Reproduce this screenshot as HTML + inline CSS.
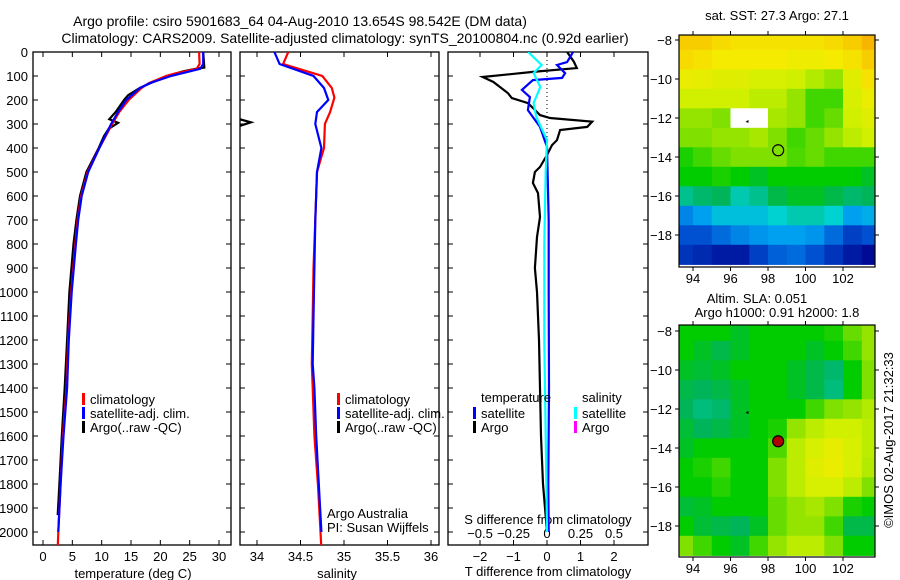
<!DOCTYPE html>
<html><head><meta charset="utf-8">
<style>
html,body{margin:0;padding:0;background:#fff;}
svg{display:block;font-family:"Liberation Sans",sans-serif;}
text{fill:#000;}
</style></head>
<body>
<svg id="fig" width="900" height="580" viewBox="0 0 900 580" xmlns="http://www.w3.org/2000/svg">
<text x="300" y="26" font-size="14" text-anchor="middle">Argo profile: csiro 5901683_64 04-Aug-2010 13.654S 98.542E (DM data)</text>
<text x="345" y="43" font-size="14" text-anchor="middle">Climatology: CARS2009. Satellite-adjusted climatology: synTS_20100804.nc (0.92d earlier)</text>
<g id="root"></g>
</svg>
<script>
// ---------- data ----------
const depthTicks = [0,100,200,300,400,500,600,700,800,900,1000,1100,1200,1300,1400,1500,1600,1700,1800,1900,2000];
const tempTicks = [0,5,10,15,20,25,30];
const salTicks = [34,34.5,35,35.5,36];
const salTickLabels = ["34","34.5","35","35.5","36"];
const tdiffTicks = [-2,-1,0,1,2];
const sdiffTicks = [-0.5,-0.25,0,0.25,0.5];

const tClimDepth = [0,50,70,90,100,130,150,200,250,300,400,500,600,700,800,1000,1200,1400,1600,1800,2000,2070];
const tClimVal   = [26.6,26.7,26.2,22.5,21,18,16.8,14.6,13,11.8,9.6,7.6,6.5,5.9,5.5,4.8,4.3,4.0,3.4,3.0,2.6,2.5];
const tSatDepth  = [0,50,70,90,100,130,150,200,250,300,400,500,600,700,800,1000,1200,1400,1600,1800,2000];
const tSatVal    = [27.3,27.3,26.8,23.5,21.8,18.2,16.5,14.2,12.8,11.6,9.6,7.7,6.6,6.0,5.6,4.9,4.4,4.1,3.5,3.0,2.6];
const tArgoDepth = [0,65,70,80,100,150,180,200,250,280,295,320,350,400,500,600,700,800,1000,1200,1400,1600,1800,1930];
const tArgoVal   = [27.3,27.5,26,24,21,16.5,14.5,13.8,12.4,11.3,12.8,11.2,10.4,9.5,7.4,6.3,5.7,5.2,4.5,4.1,3.7,3.2,2.8,2.5];

const sClimDepth = [0,50,100,150,190,250,300,400,500,700,900,1100,1300,1400,1600,1800,2000,2070];
const sClimVal   = [34.36,34.30,34.75,34.86,34.89,34.84,34.78,34.77,34.69,34.67,34.65,34.64,34.63,34.64,34.66,34.70,34.73,34.74];
const sSatDepth  = [0,50,100,150,200,250,300,400,500,700,900,1100,1300,1400,1600,1800,2000];
const sSatVal    = [34.2,34.26,34.65,34.77,34.82,34.69,34.67,34.74,34.69,34.67,34.66,34.65,34.64,34.66,34.68,34.71,34.74];
const sArgoDepth = [270,293,320];
const sArgoVal   = [33.7,33.93,33.7];

const dArgoDepth = [0,40,67,83,104,125,171,192,213,233,263,275,290,312,325,367,388,429,479,500,546,588,688,771,900,1000,1100,1200,1400,1600,1800,1900,2000];
const dArgoVal   = [0.6,0.8,0.89,-0.42,-1.92,-1.6,-1.17,-1.05,-0.57,-0.42,-0.21,0.09,1.35,1.2,0.39,0.3,0.15,0,-0.21,-0.36,-0.42,-0.27,-0.21,-0.3,-0.36,-0.3,-0.27,-0.24,-0.21,-0.18,-0.12,-0.06,0];
const dSatTDepth = [0,42,54,88,108,117,158,188,242,312,396,700,1000,1400,1800,2000];
const dSatTVal   = [0.78,0.6,0.3,0.54,0.45,-0.42,-0.75,-0.51,-0.57,-0.21,0,0.05,0.05,0.06,0.04,0.05];
const dSatSDepth = [0,54,88,146,213,271,367,500,800,1200,1600,2000];
const dSatSVal   = [-0.14,-0.04,-0.1,-0.05,-0.1,-0.08,0,-0.01,-0.02,-0.02,-0.01,0];

const lonTicks = [94,96,98,100,102];
const latTicks = [-8,-10,-12,-14,-16,-18];
const gridLons = [93.5,94.5,95.5,96.5,97.5,98.5,99.5,100.5,101.5,102.5,103.5];
const gridLats = [-8,-9,-10,-11,-12,-13,-14,-15,-16,-17,-18,-19];
const sstGrid = [
[0.85,0.85,0.82,0.8,0.8,0.8,0.8,0.8,0.82,0.85,0.9],
[0.82,0.8,0.78,0.78,0.78,0.78,0.76,0.76,0.78,0.8,0.85],
[0.75,0.74,0.72,0.72,0.7,0.7,0.68,0.65,0.62,0.72,0.8],
[0.68,0.68,0.68,0.68,0.66,0.66,0.62,0.55,0.55,0.7,0.75],
[0.62,0.62,0.6,-1,-1,0.64,0.62,0.55,0.58,0.68,0.72],
[0.6,0.6,0.62,0.62,0.64,0.6,0.55,0.58,0.62,0.66,0.68],
[0.52,0.55,0.58,0.6,0.6,0.6,0.56,0.58,0.55,0.55,0.55],
[0.5,0.5,0.52,0.5,0.48,0.5,0.5,0.5,0.5,0.5,0.48],
[0.42,0.44,0.45,0.4,0.42,0.46,0.48,0.48,0.46,0.44,0.45],
[0.25,0.3,0.35,0.35,0.35,0.38,0.4,0.4,0.38,0.3,0.32],
[0.15,0.15,0.2,0.25,0.28,0.3,0.3,0.28,0.2,0.12,0.15],
[0.1,0.08,0.05,0.05,0.12,0.18,0.2,0.15,0.1,0.05,0.02]];
const slaGrid = [
[0.5,0.5,0.5,0.48,0.5,0.5,0.5,0.5,0.52,0.58,0.62],
[0.5,0.48,0.46,0.48,0.5,0.5,0.5,0.48,0.5,0.55,0.62],
[0.48,0.47,0.48,0.5,0.5,0.5,0.48,0.46,0.44,0.5,0.6],
[0.46,0.45,0.46,0.48,0.5,0.5,0.48,0.46,0.43,0.5,0.6],
[0.45,0.43,0.44,0.48,0.5,0.5,0.5,0.55,0.6,0.62,0.65],
[0.47,0.45,0.46,0.48,0.5,0.52,0.62,0.66,0.68,0.68,0.66],
[0.48,0.5,0.5,0.5,0.5,0.56,0.66,0.7,0.74,0.7,0.66],
[0.5,0.52,0.55,0.5,0.5,0.6,0.66,0.72,0.75,0.7,0.65],
[0.5,0.5,0.53,0.5,0.5,0.6,0.66,0.7,0.7,0.66,0.6],
[0.47,0.48,0.5,0.5,0.5,0.58,0.62,0.64,0.6,0.52,0.5],
[0.5,0.47,0.46,0.45,0.48,0.58,0.62,0.62,0.55,0.46,0.46],
[0.6,0.55,0.5,0.48,0.55,0.62,0.66,0.66,0.6,0.5,0.5]];
const argoLon = 98.542, argoLat = -13.654;

// ---------- helpers ----------
const NS="http://www.w3.org/2000/svg";
const root=document.getElementById('root');
function el(tag,attrs,parent){const e=document.createElementNS(NS,tag);for(const k in attrs)e.setAttribute(k,attrs[k]);(parent||root).appendChild(e);return e;}
function txt(x,y,s,size,anchor,parent){const t=el('text',{x:x,y:y,'font-size':size||13,'text-anchor':anchor||'middle'},parent);t.textContent=s;return t;}
const yTop=52, yPer=0.24;
const yD = d => yTop + d*yPer;
function lin(d0,d1,r0,r1){return v=>r0+(v-d0)*(r1-r0)/(d1-d0);}
const xT = lin(0,30,43,219);
const xS = lin(34,36,257,431);
const xTd = lin(0,2,547,614);
const xSd = lin(0,0.5,547,614);

function panel(id,x0,x1,name){
  const g=el('g',{});
  
  
  const cp=el('clipPath',{id:id},g);
  el('rect',{x:x0,y:yTop,width:x1-x0,height:545-yTop},cp);
  const frame=el('rect',{x:x0,y:yTop,width:x1-x0,height:545-yTop,fill:'none',stroke:'#000','stroke-width':1.3},g);
  
  
  depthTicks.forEach(d=>{
    el('line',{x1:x0,x2:x0+5,y1:yD(d),y2:yD(d),stroke:'#000'},g);
    el('line',{x1:x1,x2:x1-5,y1:yD(d),y2:yD(d),stroke:'#000'},g);
  });
  return g;
}
function series(g,clip,depths,vals,xf,color,name,w){
  const pts=depths.map((d,i)=>xf(vals[i]).toFixed(1)+','+yD(d).toFixed(1)).join(' ');
  const p=el('polyline',{points:pts,fill:'none',stroke:color,'stroke-width':w||2.2,'clip-path':'url(#'+clip+')'},g);
  
  
}
function legend(g,x,y,color,label){
  el('rect',{x:x,y:y-9,width:3,height:12,fill:color},g);
  const t=txt(x+8,y+2,label,13,'start',g);
  
  
}

// depth labels
const dl=el('g',{});


depthTicks.forEach(d=>txt(28,yD(d)+5,String(d),13,'end',dl));

// ---- temperature panel ----
const p1=panel('c1',33,231,'temperature-panel');
tempTicks.forEach(t=>{
  el('line',{x1:xT(t),x2:xT(t),y1:545,y2:540,stroke:'#000'},p1);
  el('line',{x1:xT(t),x2:xT(t),y1:yTop,y2:yTop+5,stroke:'#000'},p1);
  txt(xT(t),561,String(t),13,'middle',p1);
});
txt(133,578,'temperature (deg C)',13,'middle',p1);
series(p1,'c1',tArgoDepth,tArgoVal,xT,'#000','temp-argo-line');
series(p1,'c1',tClimDepth,tClimVal,xT,'#f00','temp-climatology-line');
series(p1,'c1',tSatDepth,tSatVal,xT,'#00f','temp-satellite-line');
legend(p1,82,402,'#f00','climatology');
legend(p1,82,416,'#00f','satellite-adj. clim.');
legend(p1,82,430,'#000','Argo(..raw -QC)');

// ---- salinity panel ----
const p2=panel('c2',240,439,'salinity-panel');
salTicks.forEach((s,i)=>{
  el('line',{x1:xS(s),x2:xS(s),y1:545,y2:540,stroke:'#000'},p2);
  el('line',{x1:xS(s),x2:xS(s),y1:yTop,y2:yTop+5,stroke:'#000'},p2);
  txt(xS(s),561,salTickLabels[i],13,'middle',p2);
});
txt(337,578,'salinity',13,'middle',p2);
series(p2,'c2',sArgoDepth,sArgoVal,xS,'#000','sal-argo-line');
series(p2,'c2',sClimDepth,sClimVal,xS,'#f00','sal-climatology-line');
series(p2,'c2',sSatDepth,sSatVal,xS,'#00f','sal-satellite-line');
legend(p2,337,402,'#f00','climatology');
legend(p2,337,416,'#00f','satellite-adj. clim.');
legend(p2,337,430,'#000','Argo(..raw -QC)');
txt(327,518,'Argo Australia',13,'start',p2);
txt(327,532,'PI: Susan Wijffels',13,'start',p2);

// ---- difference panel ----
const p3=panel('c3',448,648,'difference-panel');
tdiffTicks.forEach(t=>{
  el('line',{x1:xTd(t),x2:xTd(t),y1:545,y2:540,stroke:'#000'},p3);
  el('line',{x1:xTd(t),x2:xTd(t),y1:yTop,y2:yTop+5,stroke:'#000'},p3);
  txt(xTd(t),561,String(t).replace('-','\u2212'),13,'middle',p3);
});
sdiffTicks.forEach(s=>{
  txt(xSd(s),538,String(s).replace('-','\u2212'),13,'middle',p3);
});
txt(548,524,'S difference from climatology',13,'middle',p3);
txt(548,576,'T difference from climatology',13,'middle',p3);
el('line',{x1:xTd(0),x2:xTd(0),y1:yTop,y2:yD(430),stroke:'#000','stroke-dasharray':'1,3'},p3);
series(p3,'c3',dArgoDepth,dArgoVal,xTd,'#000','tdiff-argo-line');
series(p3,'c3',dSatTDepth,dSatTVal,xTd,'#00f','tdiff-satellite-line');
series(p3,'c3',dSatSDepth,dSatSVal,xSd,'#0ff','sdiff-satellite-line');
txt(481,402,'temperature',13,'start',p3);
legend(p3,473,416,'#00f','satellite');
legend(p3,473,430,'#000','Argo');
txt(582,402,'salinity',13,'start',p3);
legend(p3,574,416,'#0ff','satellite');
legend(p3,574,430,'#f0f','Argo');

// ---- maps ----
const cstops=[[0,[0,0,140]],[0.15,[0,80,210]],[0.3,[0,160,240]],[0.38,[0,210,210]],[0.45,[0,180,90]],[0.5,[0,204,0]],[0.6,[128,224,0]],[0.68,[208,240,0]],[0.78,[245,235,0]],[0.88,[248,192,0]],[1,[240,128,0]]];
function cmap(v){
  if(v<0)return '#fff';
  for(let i=1;i<cstops.length;i++){if(v<=cstops[i][0]){const a=cstops[i-1],b=cstops[i];const f=(v-a[0])/(b[0]-a[0]);
    return 'rgb('+a[1].map((c,k)=>Math.round(c+(b[1][k]-c)*f)).join(',')+')';}}
  return 'rgb(240,128,0)';
}
function map(name,clip,yT,yB,latY0,grid,title1,marker){
  const g=el('g',{});
  
  
  const xL=lin(94,102,693,843);
  const yL=lin(-8,-18,latY0,latY0+195);
  const cp=el('clipPath',{id:clip},g);
  el('rect',{x:679,y:yT,width:196,height:yB-yT},cp);
  const cells=el('g',{'clip-path':'url(#'+clip+')'},g);
  grid.forEach((row,r)=>row.forEach((v,c)=>{
    const x0=xL(gridLons[c]-0.5), y0=yL(gridLats[r]+0.5);
    const cell=el('rect',{x:x0.toFixed(1),y:y0.toFixed(1),width:(xL(1)-xL(0)+0.6).toFixed(1),height:(yL(-1)-yL(0)+0.6).toFixed(1),fill:cmap(v)},cells);
    
    
  }));
  el('rect',{x:679,y:yT,width:196,height:yB-yT,fill:'none',stroke:'#000','stroke-width':1.2},g);
  lonTicks.forEach(l=>{
    el('line',{x1:xL(l),x2:xL(l),y1:yT,y2:yT-4,stroke:'#000'},g);
    el('line',{x1:xL(l),x2:xL(l),y1:yB,y2:yB+4,stroke:'#000'},g);
    txt(xL(l),yB+16,String(l),13,'middle',g);
  });
  latTicks.forEach(l=>{
    el('line',{x1:679,x2:675,y1:yL(l),y2:yL(l),stroke:'#000'},g);
    el('line',{x1:875,x2:879,y1:yL(l),y2:yL(l),stroke:'#000'},g);
    txt(672,yL(l)+5,String(l).replace('-','\u2212'),13,'end',g);
  });
  title1(g);
  let m;
  if(marker==='ring'){m=el('circle',{cx:xL(argoLon),cy:yL(argoLat),r:5.5,fill:'none',stroke:'#000','stroke-width':1.2},g);}
  else{m=el('circle',{cx:xL(argoLon),cy:yL(argoLat),r:5.5,fill:'#b00000',stroke:'#000','stroke-width':1.2},g);}
  
  
  el('path',{d:'M'+xL(96.8)+','+yL(-12.2)+' l3,-2 l0,3 z',fill:'#000'},g);
}
map('sst-map','cm1',35,267,40,sstGrid,g=>txt(777,20,'sat. SST: 27.3 Argo: 27.1',13,'middle',g),'ring');
map('sla-map','cm2',325,557,331,slaGrid,g=>{txt(757,303,'Altim. SLA: 0.051',13,'middle',g);txt(777,317,'Argo h1000: 0.91 h2000: 1.8',13,'middle',g);},'dot');
const cr=txt(0,0,'\u00a9IMOS 02-Aug-2017 21:32:33',13,'middle');
cr.setAttribute('transform','translate(893,440) rotate(-90)');


</script>
</body></html>
